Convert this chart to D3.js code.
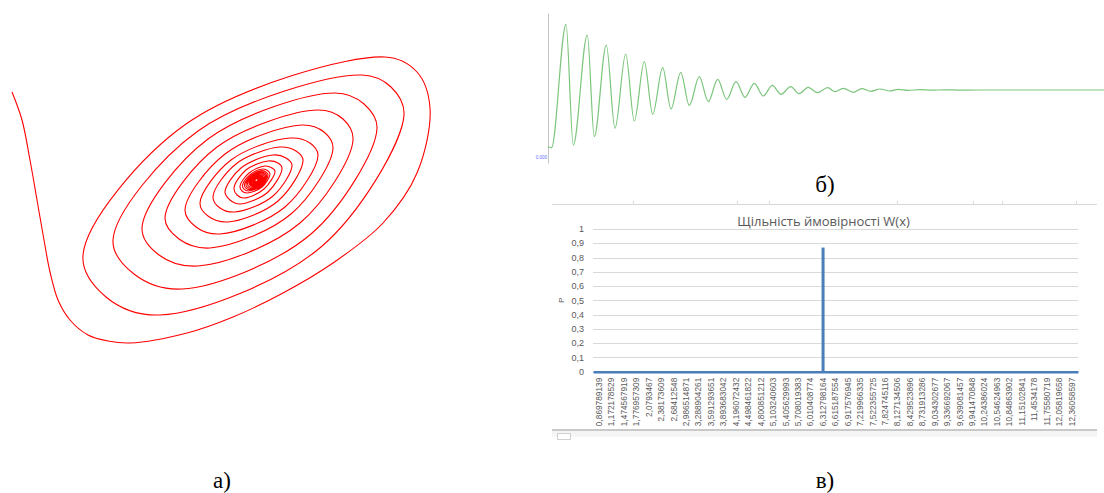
<!DOCTYPE html>
<html>
<head>
<meta charset="utf-8">
<script src="https://cdn.jsdelivr.net/npm/d3@7"></script>
<style>
  body { margin: 0; background: #fff; }
  svg { display: block; }
</style>
</head>
<body>
<svg id="fig" width="1104" height="493"></svg>
<script>
// ---- (а) phase trajectory: [displacement, velocity], spiralling into the focus ----
const phasePoints = [
  [-245,88],[-235,60],[-227,20],[-220,-20],[-213,-60],[-207,-92],[-199,-120],[-187,-140],
  [-169,-155],[-149,-161],[-127,-163],[-70,-153],[-24,-137],[26,-113],[76,-83],[126,-43],
  [160,7],[173,72],[160,108],[128,123],
  [-71,56],[-174,-75],[-151,-117],[-97,-135],[64,-67],[147,65],[134,93],[105,105],
  [-59,49],[-144,-60],[-123,-94],[-75,-109],[54,-54],[120,52],[107,76],[78,87],
  [-49,41],[-115,-48],[-98,-75],[-59,-86],[43,-43],[96,40],[86,61],[61,70],
  [-40,33],[-92,-38],[-78,-59],[-47,-68],[34,-34],[76,32],[67,48],[45,55],
  [-32,26],[-72,-30],[-61,-47],[-37,-54],[28,-27],[61,25],[53,37],[33,42],
  [-26,20],[-57,-23],[-49,-36],[-29,-42],[21,-21],[46,20],[39,29],[23,33],
  [-21,16],[-44,-17],[-37,-28],[-22,-32],[16,-16],[35,15],[29,22],[16,25],
  [-16,12],[-32,-12],[-27,-20],[-17,-24],[11,-12],[25,12],[21,17],[11,19],
  [-11,10],[-23,-8],[-20,-15],[-13,-18],[7,-9],[18,9],[15,12],[8,14],
  [-8,7],[-17,-6],[-15,-11],[-10,-13],[5,-7],[13,6],[11,9],[6,11],
  [-6,6],[-14.5,-5.1],[-12.8,-9.4],[-8.5,-11],[4.3,-6],[11,5.1],[9.4,7.7],[5.1,9.4],
  [-5.1,5.1],[-12.6,-4.4],[-11.1,-8.1],[-7.4,-9.6],[3.7,-5.2],[9.6,4.4],[8.1,6.7],[4.4,8.1],
  [-4.4,4.4],[-11,-3.9],[-9.8,-7.2],[-6.5,-8.5],[3.3,-4.6],[8.5,3.9],[7.2,5.9],[3.9,7.2],
  [-3.9,3.9],[-9.5,-3.4],[-8.4,-6.2],[-5.6,-7.3],[2.8,-3.9],[7.3,3.4],[6.2,5],[3.4,6.2],
  [-3.4,3.4],[-8,-2.8],[-7,-5.2],[-4.7,-6.1],[2.4,-3.3],[6.1,2.8],[5.2,4.2],[2.8,5.2],
  [-2.8,2.8],[-7,-2.5],[-6.2,-4.5],[-4.1,-5.3],[2,-2.9],[5.3,2.5],[4.5,3.7],[2.5,4.5],
  [-2.5,2.5],[-6,-2.1],[-5.3,-3.9],[-3.5,-4.6],[1.8,-2.5],[4.6,2.1],[3.9,3.2],[2.1,3.9],
  [-2.1,2.1],[-4.9,-1.7],[-4.4,-3.2],[-2.9,-3.8],[1.5,-2],[3.8,1.7],[3.2,2.6],[1.7,3.2],
  [-1.7,1.7],[-4.1,-1.4],[-3.6,-2.6],[-2.4,-3.1],[1.2,-1.7],[3.1,1.4],[2.6,2.2],[1.4,2.6],
  [-1.4,1.4],[-3.1,-1.1],[-2.7,-2],[-1.8,-2.3],[0.9,-1.3],[2.3,1.1],[2,1.6],[1.1,2],
  [-1.1,1.1],[-2,-0.7],[-1.8,-1.3],[-1.2,-1.6],[0.6,-0.8],[1.6,0.7],[1.3,1.1],[0.7,1.3],
  [0,0]
];

// ---- (б) damped oscillation: [time, amplitude] at start, peaks and troughs ----
const oscTime = [0,3.5,18,25.3,39.3,46.3,58.3,67,77.7,86.3,96.3,104.7,114.7,123,132.7,141.3,
  151.3,160.3,169.7,178.7,188,197,206.3,215.3,224.3,233,242.7,251,260.3,269.3,279.7,287,
  295.3,305.3,313.7,323,332,342,350.3,360.3,372,384,396,410,430,556];
const oscAmp = [10.3,9.3,132.7,12,122,20.3,112,28.7,103,36,95.3,42.7,89.3,48,84.7,51.7,
  80.3,55.3,77.7,57.7,75.3,59.7,73.7,61,71.7,62.7,70.3,63.3,69.7,64.3,69.3,65.3,
  68.7,64.7,68.3,65.7,68,66,67.7,66.7,67.3,66.8,67.2,66.9,67,67];
const oscTicks = [0];

// ---- (в) probability density W(x) ----
const densityCategories = ["0,869789139","1,172178529","1,474567919","1,776957309","2,0793467",
  "2,38173609","2,68412548","2,986514871","3,288904261","3,591293651","3,893683042",
  "4,196072432","4,498461822","4,800851212","5,103240603","5,405629993","5,708019383",
  "6,010408774","6,312798164","6,615187554","6,917576945","7,219966335","7,522355725",
  "7,824745116","8,127134506","8,429523896","8,731913286","9,034302677","9,336692067",
  "9,639081457","9,941470848","10,24386024","10,54624963","10,84863902","11,15102841",
  "11,4534178","11,75580719","12,05819658","12,36058597"];
const densityValues = [0,0,0,0,0,0,0,0,0,0,0,0,0,0,0,0,0,0,0.87,0,0,0,0,0,0,0,0,0,0,0,
  0,0,0,0,0,0,0,0,0];
const densityTicks = [0,0.1,0.2,0.3,0.4,0.5,0.6,0.7,0.8,0.9,1];
const densityTitle = "Щільність ймовірності W(x)";
const densityAxisTitle = "P";
const captions = ["а)", "б)", "в)"];

const svg = d3.select("#fig");

// ---------- (а) ----------
const xP = d3.scaleLinear().domain([-257, 183]).range([0, 440]);
const yP = d3.scaleLinear().domain([-170, 130]).range([350, 50]);
svg.append("path")
  .datum(phasePoints)
  .attr("fill", "none")
  .attr("stroke", "#ff0000")
  .attr("stroke-width", 1.1)
  .attr("stroke-linejoin", "round")
  .attr("d", d3.line().x(d => xP(d[0])).y(d => yP(d[1])).curve(d3.curveCatmullRom.alpha(0.5)));

// ---------- (б) ----------
const xO = d3.scaleLinear().domain([0, 556]).range([548, 1104]);
const yO = d3.scaleLinear().domain([-6, 144]).range([163, 13]);
const gO = svg.append("g").attr("transform", `translate(${xO(0)},0)`)
  .call(d3.axisLeft(yO).tickValues(oscTicks).tickFormat(d3.format(".3f")).tickSize(0).tickPadding(1));
gO.select(".domain").attr("stroke", "#c4c4c4").attr("stroke-width", 1);
gO.selectAll("text").attr("fill", "#6b6bff").attr("font-size", 4.5)
  .attr("font-family", "Liberation Sans, Arial, sans-serif");
svg.append("path")
  .datum(oscTime.map((t, i) => [t, oscAmp[i]]))
  .attr("fill", "none")
  .attr("stroke", "#7cc57c")
  .attr("stroke-width", 1.2)
  .attr("d", d3.line().x(d => xO(d[0])).y(d => yO(d[1])).curve(d3.curveMonotoneX));

// ---------- (в) ----------
const xH = d3.scaleBand().domain(densityCategories).range([593, 1078]).padding(0);
const yH = d3.scaleLinear().domain([0, 1]).range([371.7, 229]);
const labelColor = "#595959";

// sheet frame lines around the embedded chart
const frame = svg.append("g").attr("stroke", "#d9d9d9").attr("fill", "none");
frame.append("line").attr("x1", 552).attr("x2", 1097).attr("y1", 204.5).attr("y2", 204.5);
[633, 737, 769, 897, 973, 1002, 1076].forEach(x =>
  frame.append("line").attr("x1", x + 0.5).attr("x2", x + 0.5).attr("y1", 201).attr("y2", 204.5));
svg.append("rect").attr("x", 552).attr("y", 429).attr("width", 545).attr("height", 2).attr("fill", "#c9c9c9");
svg.append("rect").attr("x", 552).attr("y", 431).attr("width", 545).attr("height", 6).attr("fill", "#f5f5f5");
svg.append("rect").attr("x", 557.5).attr("y", 433.5).attr("width", 13).attr("height", 6)
  .attr("fill", "#fff").attr("stroke", "#d0d0d0");

// gridlines
svg.append("g").selectAll("line").data(densityTicks).join("line")
  .attr("x1", xH.range()[0]).attr("x2", xH.range()[1])
  .attr("y1", d => Math.round(yH(d)) + 0.5).attr("y2", d => Math.round(yH(d)) + 0.5)
  .attr("stroke", "#d9d9d9").attr("stroke-width", 1);

// y tick labels
svg.append("g").selectAll("text").data(densityTicks).join("text")
  .attr("x", 584).attr("y", d => yH(d)).attr("dy", "0.35em")
  .attr("text-anchor", "end").attr("fill", labelColor)
  .attr("font-family", "Liberation Sans, Arial, sans-serif").attr("font-size", 9)
  .text(d => String(d).replace(".", ","));

// y axis title
svg.append("text")
  .attr("transform", `translate(564,${yH(0.5)}) rotate(-90)`)
  .attr("text-anchor", "middle").attr("fill", labelColor)
  .attr("font-family", "Liberation Sans, Arial, sans-serif").attr("font-size", 8)
  .text(densityAxisTitle);

// chart title
svg.append("text")
  .attr("x", (xH.range()[0] + xH.range()[1]) / 2 - 12).attr("y", 226)
  .attr("text-anchor", "middle").attr("fill", labelColor)
  .attr("font-family", "Open Sans, Liberation Sans, sans-serif").attr("font-size", 13)
  .text(densityTitle);

// columns
const barW = 3;
svg.append("g").selectAll("rect").data(densityCategories).join("rect")
  .attr("x", (c) => xH(c) + xH.bandwidth() / 2 - barW / 2)
  .attr("y", (c, i) => yH(densityValues[i]))
  .attr("width", barW)
  .attr("height", (c, i) => yH(0) - yH(densityValues[i]))
  .attr("fill", "#4a7ebb");

// category axis
const gx = svg.append("g").attr("transform", `translate(0,${yH(0)})`)
  .call(d3.axisBottom(xH).tickSize(0).tickPadding(0));
gx.select(".domain").attr("stroke", "#4a7ebb").attr("stroke-width", 2.5);
gx.selectAll("text")
  .attr("transform", "translate(0,6) rotate(-90)")
  .attr("text-anchor", "end").attr("x", 0).attr("y", 0).attr("dy", "0.33em")
  .attr("fill", labelColor)
  .attr("font-family", "Liberation Sans Narrow, Liberation Sans, Arial, sans-serif")
  .attr("font-size", 8.3);

// panel captions
const capPos = [[222, 488], [825, 192], [825, 488]];
svg.append("g").selectAll("text").data(captions).join("text")
  .attr("x", (d, i) => capPos[i][0]).attr("y", (d, i) => capPos[i][1])
  .attr("text-anchor", "middle").attr("fill", "#000")
  .attr("font-family", "Liberation Serif, Times New Roman, serif").attr("font-size", 23)
  .text(d => d);
</script>
</body>
</html>
